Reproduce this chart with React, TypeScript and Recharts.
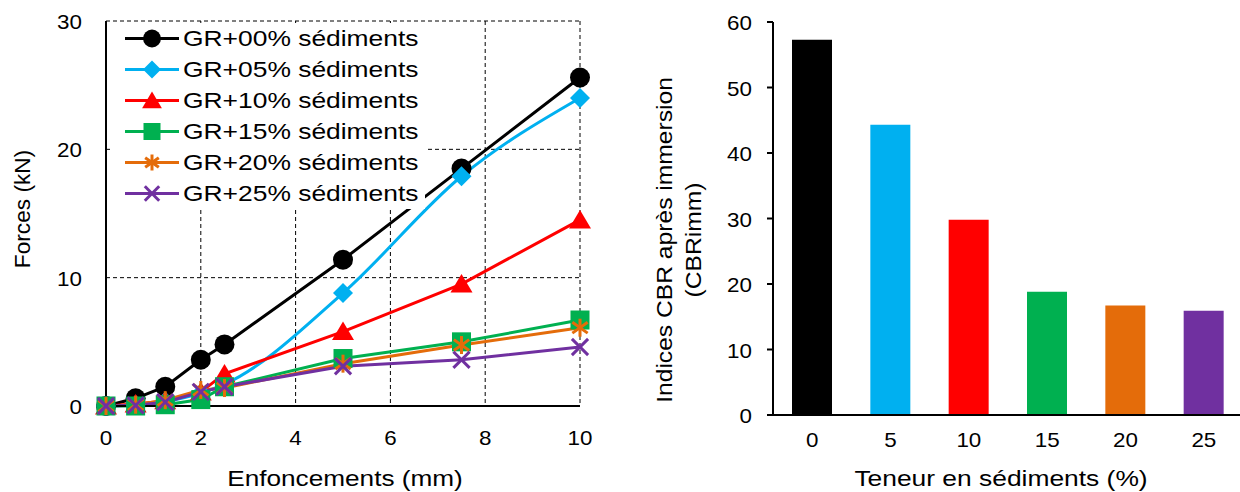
import React from 'react';
import { LineChart, Line, XAxis, YAxis, CartesianGrid, Legend, BarChart, Bar, Cell } from 'recharts';

// ---------- Data ----------
const X_MM = [0, 0.625, 1.25, 2, 2.5, 5, 7.5, 10];
const GR00 = [0, 0.6, 1.5, 3.6, 4.8, 11.4, 18.5, 25.6];
const GR05 = [0, 0.1, 0.35, 1.0, 1.7, 8.8, 17.9, 24.0];
const GR10 = [0, 0.15, 0.4, 1.1, 2.5, 5.8, 9.5, 14.5];
const GR15 = [0, 0, 0.1, 0.5, 1.5, 3.7, 5.0, 6.7];
const GR20 = [0, 0.1, 0.45, 1.25, 1.4, 3.3, 4.75, 6.1];
const GR25 = [0, 0.05, 0.3, 1.1, 1.5, 3.1, 3.6, 4.6];

const SERIES_NAMES = [
  'GR+00% sédiments',
  'GR+05% sédiments',
  'GR+10% sédiments',
  'GR+15% sédiments',
  'GR+20% sédiments',
  'GR+25% sédiments',
];
const SERIES_VALUES = [GR00, GR05, GR10, GR15, GR20, GR25];
const SERIES_COLORS = ['#000000', '#00B0F0', '#FF0000', '#00B050', '#E46C0A', '#7030A0'];
const SERIES_MARKERS = ['circle', 'diamond', 'triangle', 'square', 'star', 'x'];

const FORCE_TICKS = [0, 10, 20, 30];
const MM_TICKS = [0, 2, 4, 6, 8, 10];

const TENEUR = ['0', '5', '10', '15', '20', '25'];
const CBR_IMM = [57.3, 44.3, 29.8, 18.8, 16.7, 15.9];
const CBR_TICKS = [0, 10, 20, 30, 40, 50, 60];

// ---------- Derived tables ----------
const SERIES = SERIES_NAMES.map((name, i) => ({
  key: 's' + i,
  name,
  values: SERIES_VALUES[i],
  color: SERIES_COLORS[i],
  marker: SERIES_MARKERS[i],
}));

const lineData = X_MM.map((x, i) => {
  const row: any = { x };
  SERIES.forEach((s) => {
    row[s.key] = s.values[i];
  });
  return row;
});

const barData = TENEUR.map((t, i) => ({ t, v: CBR_IMM[i] }));

const FONT = '"Liberation Sans", Arial, sans-serif';

function ST({ x, y, angle = 0, s = 1, anchor = 'middle', size = 22, children }: any) {
  return (
    <text
      transform={`translate(${x},${y}) rotate(${angle}) scale(${s},1)`}
      textAnchor={anchor}
      dominantBaseline="central"
      fontSize={size}
      fontFamily={FONT}
      fill="#000"
    >
      {children}
    </text>
  );
}

function Marker({ type, cx, cy, color, r }: any) {
  if (cx == null || cy == null) return null;
  switch (type) {
    case 'circle':
      return <circle cx={cx} cy={cy} r={r} fill={color} />;
    case 'diamond':
      return (
        <polygon
          points={`${cx},${cy - r} ${cx + r},${cy} ${cx},${cy + r} ${cx - r},${cy}`}
          fill={color}
        />
      );
    case 'triangle':
      return (
        <polygon
          points={`${cx},${cy - r} ${cx + r * 1.1},${cy + r * 0.85} ${cx - r * 1.1},${cy + r * 0.85}`}
          fill={color}
        />
      );
    case 'square':
      return <rect x={cx - r} y={cy - r} width={2 * r} height={2 * r} fill={color} />;
    case 'star':
      return (
        <g stroke={color} strokeWidth={3}>
          <line x1={cx} y1={cy - r} x2={cx} y2={cy + r} />
          <line x1={cx - r * 0.85} y1={cy - r * 0.6} x2={cx + r * 0.85} y2={cy + r * 0.6} />
          <line x1={cx - r * 0.85} y1={cy + r * 0.6} x2={cx + r * 0.85} y2={cy - r * 0.6} />
        </g>
      );
    case 'x':
      return (
        <g stroke={color} strokeWidth={3}>
          <line x1={cx - r * 0.9} y1={cy - r * 0.9} x2={cx + r * 0.9} y2={cy + r * 0.9} />
          <line x1={cx - r * 0.9} y1={cy + r * 0.9} x2={cx + r * 0.9} y2={cy - r * 0.9} />
        </g>
      );
    default:
      return null;
  }
}

const markerSize: any = { circle: 10, diamond: 10, triangle: 10, square: 9.5, star: 9, x: 9 };

const renderLegend = () => (
  <div style={{ width: 313, height: 186, background: '#fff' }}>
    {SERIES.map((s) => (
      <div key={s.key} style={{ height: 31, display: 'flex', alignItems: 'center' }}>
        <svg width={56} height={31} style={{ marginLeft: 12, flex: 'none', display: 'block' }}>
          <line x1={1} x2={55} y1={15.5} y2={15.5} stroke={s.color} strokeWidth={3} />
          <Marker type={s.marker} cx={28} cy={15.5} color={s.color} r={markerSize[s.marker] - 1} />
        </svg>
        <span
          style={{
            marginLeft: 3,
            fontSize: 22,
            fontFamily: FONT,
            color: '#000',
            transform: 'scaleX(1.2)',
            transformOrigin: 'left center',
            whiteSpace: 'nowrap',
            display: 'inline-block',
            lineHeight: '31px',
          }}
        >
          {s.name}
        </span>
      </div>
    ))}
  </div>
);

const leftXTick = (p: any) => (
  <ST x={p.x} y={p.y + 32} s={1.12} size={20}>
    {p.payload.value}
  </ST>
);
const leftYTick = (p: any) => (
  <ST x={p.x - 24} y={p.y + 1} s={1.12} size={20} anchor="end">
    {p.payload.value}
  </ST>
);
const rightXTick = (p: any) => (
  <ST x={p.x} y={p.y + 25} s={1.12} size={20}>
    {p.payload.value}
  </ST>
);
const rightYTick = (p: any) => (
  <ST x={p.x - 15} y={p.y + 1} s={1.12} size={20} anchor="end">
    {p.payload.value}
  </ST>
);

export default function App() {
  return (
    <div
      style={{
        position: 'absolute',
        left: 0,
        top: 0,
        width: 1240,
        height: 492,
        overflow: 'hidden',
        background: '#fff',
        fontFamily: FONT,
      }}
    >
      <div style={{ position: 'absolute', left: 0, top: 0 }}>
        <LineChart width={620} height={492} data={lineData} margin={{ top: 21, right: 40, left: 0, bottom: 0 }}>
          <CartesianGrid stroke="#000" strokeDasharray="4 3" strokeWidth={1} />
          <XAxis
            type="number"
            dataKey="x"
            domain={[0, 10]}
            ticks={MM_TICKS}
            height={86}
            axisLine={{ stroke: '#000', strokeWidth: 2 }}
            tickLine={false}
            tickSize={0}
            tickMargin={0}
            tick={leftXTick}
            label={() => (
              <ST x={345} y={478} s={1.19} size={22}>
                Enfoncements (mm)
              </ST>
            )}
          />
          <YAxis
            type="number"
            domain={[0, 30]}
            ticks={FORCE_TICKS}
            width={106}
            axisLine={{ stroke: '#000', strokeWidth: 2 }}
            tickLine={false}
            tickSize={0}
            tickMargin={0}
            tick={leftYTick}
            label={() => (
              <ST x={23} y={209} angle={-90} s={1.03} size={22}>
                Forces (kN)
              </ST>
            )}
          />
          {SERIES.map((s, si) => (
            <Line
              key={s.key}
              dataKey={s.key}
              name={s.name}
              type={si === 1 ? 'monotone' : 'linear'}
              stroke={s.color}
              strokeWidth={3}
              isAnimationActive={false}
              dot={(p: any) => (
                <Marker
                  key={s.key + '-' + p.index}
                  type={s.marker}
                  cx={p.cx}
                  cy={p.cy}
                  color={s.color}
                  r={markerSize[s.marker]}
                />
              )}
              activeDot={false}
            />
          ))}
          <Legend
            layout="vertical"
            align="center"
            verticalAlign="middle"
            content={renderLegend}
            wrapperStyle={{ left: 112, top: 23, width: 313, height: 186, margin: 0, padding: 0 }}
          />
        </LineChart>
      </div>
      <div style={{ position: 'absolute', left: 620, top: 0 }}>
        <BarChart width={623} height={492} data={barData} margin={{ top: 22, right: 0, left: 0, bottom: 0 }}>
          <XAxis
            dataKey="t"
            height={77}
            axisLine={{ stroke: '#000', strokeWidth: 2 }}
            tickLine={false}
            tickSize={0}
            tickMargin={0}
            tick={rightXTick}
            label={() => (
              <ST x={381} y={478} s={1.2} size={22}>
                Teneur en sédiments (%)
              </ST>
            )}
          />
          <YAxis
            type="number"
            domain={[0, 60]}
            ticks={CBR_TICKS}
            width={153}
            axisLine={{ stroke: '#000', strokeWidth: 2 }}
            tickLine={{ stroke: '#000', strokeWidth: 2 }}
            tickSize={6}
            tickMargin={0}
            tick={rightYTick}
            label={() => (
              <g>
                <ST x={44} y={240} angle={-90} s={1.12} size={22}>
                  Indices CBR après immersion
                </ST>
                <ST x={73} y={240} angle={-90} s={1.12} size={22}>
                  (CBRimm)
                </ST>
              </g>
            )}
          />
          <Bar dataKey="v" barSize={40} isAnimationActive={false}>
            {barData.map((d, i) => (
              <Cell key={d.t} fill={SERIES_COLORS[i]} />
            ))}
          </Bar>
        </BarChart>
      </div>
    </div>
  );
}
